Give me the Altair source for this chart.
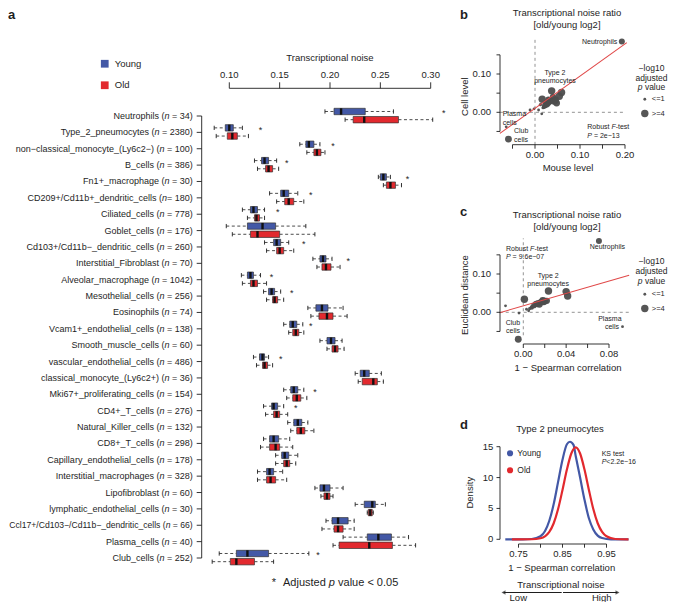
import altair as alt
import pandas as pd

FONT = "Liberation Sans"
INK = "#1e1e1e"
BLUE = "#4358A6"
RED = "#E2292E"
PT = "#4d4d4d"
LINE_RED = "#E04848"

# ---------------- panel a : box statistics ----------------
cells = ["Neutrophils", "Type_2_pneumocytes", "non\u2212classical_monocyte_(Ly6c2\u2212)", "B_cells",
         "Fn1+_macrophage", "CD209+/Cd11b+_dendritic_cells", "Ciliated_cells", "Goblet_cells",
         "Cd103+/Cd11b\u2212_dendritic_cells", "Interstitial_Fibroblast", "Alveolar_macrophage",
         "Mesothelial_cells", "Eosinophils", "Vcam1+_endothelial_cells", "Smooth_muscle_cells",
         "vascular_endothelial_cells", "classical_monocyte_(Ly6c2+)", "Mki67+_proliferating_cells",
         "CD4+_T_cells", "Natural_Killer_cells", "CD8+_T_cells", "Capillary_endothelial_cells",
         "Interstitial_macrophages", "Lipofibroblast", "lymphatic_endothelial_cells",
         "Ccl17+/Cd103\u2212/Cd11b\u2212_dendritic_cells", "Plasma_cells", "Club_cells"]
n_cells = [34, 2380, 100, 386, 30, 180, 778, 176, 260, 70, 1042, 256, 74, 138, 60, 486, 36, 154,
           276, 132, 298, 178, 328, 60, 30, 66, 40, 252]
n_sep = [" = "] * 5 + ["= "] + [" = "] * 22

young_lw = [.195, .085, .170, .125, .248, .140, .113, .097, .135, .183, .112, .134, .178, .154,
            .190, .124, .225, .154, .134, .158, .134, .146, .128, .185, .225, .196, .213, .090]
young_q1 = [.204, .096, .176, .132, .250, .151, .121, .118, .144, .190, .118, .139, .186, .160,
            .197, .130, .230, .161, .142, .164, .140, .152, .137, .190, .234, .202, .237, .107]
young_med = [.211, .100, .179, .135, .253, .154, .124, .133, .147, .193, .121, .142, .192, .163,
             .201, .133, .234, .164, .144, .168, .144, .155, .140, .194, .242, .208, .248, .118]
young_q3 = [.235, .104, .184, .139, .256, .159, .128, .146, .151, .196, .124, .145, .198, .167,
            .205, .135, .239, .168, .148, .172, .149, .159, .144, .200, .245, .218, .261, .139]
young_uw = [.263, .113, .190, .147, .260, .168, .135, .176, .159, .202, .131, .151, .213, .173,
            .212, .139, .251, .174, .154, .178, .160, .168, .153, .213, .255, .224, .278, .179]

old_lw = [.215, .087, .177, .128, .253, .147, .118, .103, .137, .187, .113, .137, .181, .159,
          .197, .127, .228, .157, .136, .161, .131, .146, .128, .191, .237, .192, .203, .083]
old_q1 = [.223, .098, .184, .136, .256, .155, .125, .121, .147, .192, .121, .143, .189, .163,
          .202, .133, .232, .163, .144, .167, .140, .154, .137, .194, .238, .204, .209, .101]
old_med = [.234, .103, .187, .139, .260, .159, .127, .128, .150, .196, .124, .145, .197, .166,
           .205, .135, .243, .167, .147, .171, .146, .157, .141, .197, .240, .208, .239, .107]
old_q3 = [.268, .108, .191, .143, .265, .164, .130, .150, .154, .201, .128, .148, .203, .169,
          .208, .138, .247, .171, .150, .175, .150, .160, .146, .200, .242, .213, .262, .125]
old_uw = [.302, .119, .195, .149, .271, .174, .135, .185, .164, .210, .137, .154, .217, .174,
          .214, .143, .253, .177, .158, .184, .163, .166, .157, .203, .243, .224, .285, .144]

star_x = [.313, .131, .203, .157, .277, .181, .148, None, .174, .218, .142, .162, None, .181,
          None, .151, None, .185, .166, None, None, None, None, None, None, None, None, .188]

a_ticks = [0.10, 0.15, 0.20, 0.25, 0.30]

# ---------------- panels b, c : noise ratio scatter ----------------
mouse_level = [.193, .037, .045, .030, .059, .040, .025, .008, .032, .054, .033, .028, .022, .022,
               .018, .048, .015, .042, .046, .020, .012, .026, .030, .016, -.011, -.002, -.064, -.059]
cell_level = [.185, .056, .030, .033, .052, .040, .024, .006, .028, .042, .030, .022, .016, .018,
              .012, .024, -.004, .028, .033, .014, .020, .018, .025, .034, .006, .009, -.038, -.070]
spearman_dist = [.0706, .0235, .0195, .016, .040, .018, .012, .003, .014, .0414, .019, .017, .008, .010,
                 .006, .015, -.004, .022, .020, .008, .010, .013, .018, .001, .005, -.0166, .0926, -.0047]
euclid_dist = [.186, .0557, .030, .026, .054, .032, .022, .008, .024, .0426, .028, .027, .014, .018,
               .010, .021, -.002, .030, .029, .012, .016, .019, .025, .034, .004, .017, -.0376, -.0705]
neglog10_p = [2.8, 4.5, 3.5, 3.0, 4.5, 3.0, 3.0, 1.0, 3.0, 4.5, 4.5, 3.0, 1.5, 2.5,
              1.2, 3.5, 1.0, 3.0, 3.0, 1.5, 1.2, 1.8, 2.0, 4.0, 1.0, 1.0, 1.0, 3.5]

reg_b_x = [-0.078, 0.204]
reg_b_y = [-0.055, 0.182]
reg_c_x = [-0.022, 0.0988]
reg_c_y = [-0.001, 0.0966]

b_xticks = [-0.05, 0.0, 0.05, 0.10, 0.15, 0.20]
b_xlabels = [0.0, 0.10, 0.20]
bc_yticks = [-0.05, 0.0, 0.05, 0.10, 0.15]
bc_ylabels = [0.0, 0.10]
c_xticks = [0.0, 0.02, 0.04, 0.06, 0.08]
c_xlabels = [0.0, 0.04, 0.08]

# ---------------- panel d : density curves ----------------
young_dx = [0.72, 0.76, 0.78, 0.80, 0.81, 0.82, 0.83, 0.84, 0.85, 0.86, 0.867, 0.875, 0.88, 0.89,
            0.90, 0.91, 0.92, 0.93, 0.94, 0.96, 1.00]
young_dy = [0.0, 0.0, 0.05, 0.5, 1.3, 3.0, 5.7, 9.3, 12.9, 15.4, 15.8, 15.3, 13.5, 10.0,
            6.4, 3.4, 1.6, 0.6, 0.2, 0.0, 0.0]
old_dx = [0.735, 0.78, 0.80, 0.82, 0.83, 0.84, 0.85, 0.86, 0.87, 0.88, 0.89, 0.90, 0.91, 0.92,
          0.93, 0.94, 0.95, 0.97, 1.00]
old_dy = [0.0, 0.01, 0.17, 1.2, 2.6, 4.9, 8.0, 11.3, 13.9, 14.9, 13.9, 11.3, 8.0, 4.9,
          2.6, 1.2, 0.5, 0.05, 0.0]
d_xticks = [0.75, 0.80, 0.85, 0.90, 0.95]
d_xlabels = [0.75, 0.85, 0.95]
d_yticks = [0, 5, 10, 15]

# ---------------- helpers ----------------
W = {' ': 278, '(': 333, ')': 333, '+': 584, '-': 333, '/': 278, '=': 584, '_': 556, '.': 278,
     '\u2212': 584, '<': 584, '*': 389}
for ch in "0123456789":
    W[ch] = 556
for ch, w in zip("ABCDEFGHIJKLMNOPQRSTUVWXYZ",
                 [667, 667, 722, 722, 667, 611, 778, 722, 278, 500, 667, 556, 833, 722, 778, 667, 778,
                  722, 667, 611, 722, 667, 944, 667, 667, 611]):
    W[ch] = w
for ch, w in zip("abcdefghijklmnopqrstuvwxyz",
                 [556, 556, 500, 556, 556, 278, 556, 556, 222, 222, 500, 222, 833, 556, 556, 556, 556,
                  333, 500, 278, 556, 500, 722, 500, 500, 500]):
    W[ch] = w


def tw(s, fs):
    return sum(W.get(c, 556) for c in s) * fs / 1000.0


def S(dom, rng):
    return alt.Scale(domain=dom, range=rng, zero=False, nice=False)


def qx(f, sc):
    return alt.X(f, type="quantitative", scale=sc, axis=None)


def qy(f, sc):
    return alt.Y(f, type="quantitative", scale=sc, axis=None)


ONE = pd.DataFrame({"k": [0]})


def label(text, x, y, size=9.5, align="center", baseline="middle", angle=0, weight="normal",
          style="normal", color=INK):
    kw = dict(text=text, fontSize=size, align=align, baseline=baseline, fontWeight=weight,
              fontStyle=style, color=color, font=FONT)
    if angle:
        kw["angle"] = angle
    return alt.Chart(ONE).mark_text(**kw).encode(x=alt.value(x), y=alt.value(y))


def rich(segs, x, y, size=7):
    out, cx = [], x
    for s, it in segs:
        lead = len(s) - len(s.lstrip(" "))
        cx += tw(" " * lead, size)
        body = s.strip(" ")
        out.append(label(body, cx, y, size=size, align="left", style="italic" if it else "normal"))
        cx += tw(s.lstrip(" "), size)
    return out


def rich_center(segs, xc, y, size):
    total = tw("".join(s for s, _ in segs), size)
    return rich(segs, xc - total / 2.0, y, size=size)


def dlabel(text, x, y, xs, ys, size=7, align="center"):
    return alt.Chart(pd.DataFrame({"x": [x], "y": [y]})).mark_text(
        text=text, fontSize=size, align=align, baseline="middle", color=INK, font=FONT
    ).encode(x=qx("x", xs), y=qy("y", ys))


def hrule(x0, x1, y, xs, **kw):
    return alt.Chart(pd.DataFrame({"a": [x0], "b": [x1]})).mark_rule(**kw).encode(
        x=qx("a", xs), x2=alt.X2("b"), y=alt.value(y))


def vrule(y0, y1, x, ys, **kw):
    return alt.Chart(pd.DataFrame({"a": [y0], "b": [y1]})).mark_rule(**kw).encode(
        y=qy("a", ys), y2=alt.Y2("b"), x=alt.value(x))


def hline_data(x0, x1, yv, xs, ys, **kw):
    return alt.Chart(pd.DataFrame({"a": [x0], "b": [x1], "y": [yv]})).mark_rule(**kw).encode(
        x=qx("a", xs), x2=alt.X2("b"), y=qy("y", ys))


def vline_data(y0, y1, xv, xs, ys, **kw):
    return alt.Chart(pd.DataFrame({"a": [y0], "b": [y1], "x": [xv]})).mark_rule(**kw).encode(
        y=qy("a", ys), y2=alt.Y2("b"), x=qx("x", xs))


def haxis(ticks, labels, xs, yl, tlen, ly, fmt):
    out = [hrule(ticks[0], ticks[-1], yl, xs, color=INK, strokeWidth=0.9)]
    out.append(alt.Chart(pd.DataFrame({"v": ticks})).mark_rule(color=INK, strokeWidth=0.9).encode(
        x=qx("v", xs), y=alt.value(yl), y2=alt.value(yl + tlen)))
    out.append(alt.Chart(pd.DataFrame({"v": labels})).mark_text(
        fontSize=9.5, font=FONT, color=INK, baseline="middle").encode(
        x=qx("v", xs), y=alt.value(ly), text=alt.Text("v:Q", format=fmt)))
    return out


def vaxis(ticks, labels, ys, xl, tlen, lx, fmt):
    out = [vrule(ticks[0], ticks[-1], xl, ys, color=INK, strokeWidth=0.9)]
    out.append(alt.Chart(pd.DataFrame({"v": ticks})).mark_rule(color=INK, strokeWidth=0.9).encode(
        y=qy("v", ys), x=alt.value(xl - tlen), x2=alt.value(xl)))
    out.append(alt.Chart(pd.DataFrame({"v": labels})).mark_text(
        fontSize=9.5, font=FONT, color=INK, baseline="middle", align="right").encode(
        y=qy("v", ys), x=alt.value(lx), text=alt.Text("v:Q", format=fmt)))
    return out


layers = []

# ================= panel a =================
AX = S([0.10, 0.30], [221.3, 422.7])
AY = S([0, 27], [108, 550])

rows = []
for i in range(len(cells)):
    for grp, off, v in (("Young", -0.275, (young_lw, young_q1, young_med, young_q3, young_uw)),
                        ("Old", 0.225, (old_lw, old_q1, old_med, old_q3, old_uw))):
        c = i + off
        rows.append(dict(group=grp, yc=c, yt=c - 0.195, yb=c + 0.195, ct=c - 0.13, cb=c + 0.13,
                         lw=v[0][i], q1=v[1][i], med=v[2][i], q3=v[3][i], uw=v[4][i]))
box = pd.DataFrame(rows)

layers.append(alt.Chart(box).mark_rule(color=INK, strokeWidth=0.8, strokeDash=[3, 2.5]).encode(
    x=qx("lw", AX), x2=alt.X2("q1"), y=qy("yc", AY)))
layers.append(alt.Chart(box).mark_rule(color=INK, strokeWidth=0.8, strokeDash=[3, 2.5]).encode(
    x=qx("q3", AX), x2=alt.X2("uw"), y=qy("yc", AY)))
layers.append(alt.Chart(box).mark_rule(color=INK, strokeWidth=0.9).encode(
    x=qx("lw", AX), y=qy("ct", AY), y2=alt.Y2("cb")))
layers.append(alt.Chart(box).mark_rule(color=INK, strokeWidth=0.9).encode(
    x=qx("uw", AX), y=qy("ct", AY), y2=alt.Y2("cb")))
layers.append(alt.Chart(box).mark_rect(stroke="#333333", strokeWidth=0.7).encode(
    x=qx("q1", AX), x2=alt.X2("q3"), y=qy("yt", AY), y2=alt.Y2("yb"),
    color=alt.Color("group:N", scale=alt.Scale(domain=["Young", "Old"], range=[BLUE, RED]),
                    legend=alt.Legend(orient="none", legendX=92, legendY=51, title=None,
                                      direction="vertical", symbolType="square", symbolSize=60,
                                      symbolStrokeWidth=0, labelFontSize=9.5, labelFont=FONT,
                                      labelColor=INK, rowPadding=10.5, labelOffset=5.3, padding=0))))
layers.append(alt.Chart(box).mark_rule(color="#111111", strokeWidth=2.4).encode(
    x=qx("med", AX), y=qy("yt", AY), y2=alt.Y2("yb")))

stars = pd.DataFrame([dict(x=s, y=i - 0.28) for i, s in enumerate(star_x) if s is not None])
layers.append(alt.Chart(stars).mark_text(text="*", fontSize=9, font=FONT, color=INK,
                                         baseline="alphabetic", dy=5).encode(
    x=qx("x", AX), y=qy("y", AY)))

# y axis of panel a
layers.append(vrule(0, 27, 193.7, AY, color=INK, strokeWidth=0.9))
layers.append(alt.Chart(pd.DataFrame({"v": list(range(len(cells)))})).mark_rule(
    color=INK, strokeWidth=0.9).encode(y=qy("v", AY), x=alt.value(188.7), x2=alt.value(193.7)))
RX = 184.7
lab_rows = []
for i, (c, n, sep) in enumerate(zip(cells, n_cells, n_sep)):
    pre = c + " ("
    suf = sep + str(n) + ")"
    full = tw(pre + "n" + suf, 9)
    fs = min(9.0, 9.0 * (RX - 0.5) / full)
    xn = RX - tw(suf, fs)
    xp = xn - tw("n", fs)
    lab_rows.append(dict(i=i, pre=pre, suf=suf.strip(), xp=xp, xn=xn, xs=RX, fs=fs))
lab = pd.DataFrame(lab_rows)
for fld, xf in (("pre", "xp"), ("suf", "xs")):
    layers.append(alt.Chart(lab).mark_text(font=FONT, color=INK, align="right",
                                           baseline="middle").encode(
        x=alt.X(xf, type="quantitative", scale=None, axis=None), y=qy("i", AY), text=fld + ":N",
        size=alt.Size("fs:Q", scale=None, legend=None)))
layers.append(alt.Chart(lab).mark_text(text="n", font=FONT, color=INK, align="right",
                                       baseline="middle", fontStyle="italic").encode(
    x=alt.X("xn", type="quantitative", scale=None, axis=None), y=qy("i", AY),
    size=alt.Size("fs:Q", scale=None, legend=None)))

# top x axis of panel a
layers.append(hrule(a_ticks[0], a_ticks[-1], 80.3, AX, color=INK, strokeWidth=0.9))
layers.append(alt.Chart(pd.DataFrame({"v": a_ticks})).mark_rule(color=INK, strokeWidth=0.9).encode(
    x=qx("v", AX), y=alt.value(74.3), y2=alt.value(80.3)))
layers.append(alt.Chart(pd.DataFrame({"v": a_ticks})).mark_text(
    fontSize=9.5, font=FONT, color=INK, baseline="middle").encode(
    x=qx("v", AX), y=alt.value(67), text=alt.Text("v:Q", format=".2f")))
layers.append(label("Transcriptional noise", 322, 50, size=9.5))

# footnote
layers.append(label("*", 266, 578, size=11, baseline="alphabetic"))
layers += rich([("Adjusted ", False), ("p", True), (" value < 0.05", False)], 275, 575.3, size=11)
layers.append(label("a", 0, 1, size=13, align="left", baseline="top", weight="bold"))

# ================= panel b =================
BX = S([0.0, 0.2], [527, 617])
BY = S([0.0, 0.1], [104.3, 66.0])
pts = pd.DataFrame({"cell": cells, "xb": mouse_level, "yb": cell_level, "xc": spearman_dist,
                    "yc": euclid_dist, "s": neglog10_p})
SIZE = alt.Scale(domain=[1, 4], range=[8, 55], clamp=True)


def size_legend(lx, ly):
    return alt.Legend(orient="none", legendX=lx, legendY=ly, direction="vertical", title=None,
                      values=[1, 4], labelExpr="datum.value <= 1 ? '<=1' : '>=4'",
                      labelFontSize=7.5, labelFont=FONT, labelColor=INK, symbolFillColor=PT,
                      symbolStrokeWidth=0, symbolType="circle", rowPadding=6, labelOffset=3,
                      padding=0)


def size_legend_title(xc, ytop):
    out = [label("\u2212log10", xc, ytop, size=8.5), label("adjusted", xc, ytop + 9.8, size=8.5)]
    out += rich_center([("p", True), (" value", False)], xc, ytop + 19.6, 8.5)
    return out


GREY_DASH = dict(color="#777777", strokeWidth=0.8, strokeDash=[3, 3])
layers.append(hline_data(-0.078, 0.20, 0.0, BX, BY, **GREY_DASH))
layers.append(vline_data(-0.085, 0.191, 0.0, BX, BY, **GREY_DASH))
layers.append(alt.Chart(pts).mark_circle(color=PT, opacity=0.95).encode(
    x=qx("xb", BX), y=qy("yb", BY), size=alt.Size("s:Q", scale=SIZE, legend=size_legend(632.8, 87.5))))
layers += size_legend_title(643.5, 59.7)
layers.append(alt.Chart(pd.DataFrame({"x": reg_b_x, "y": reg_b_y})).mark_line(
    color=LINE_RED, strokeWidth=1.1).encode(x=qx("x", BX), y=qy("y", BY)))
layers.append(dlabel("Neutrophils", 0.183, 0.1836, BX, BY, align="right"))
layers.append(dlabel("Type 2", 0.0444, 0.1034, BX, BY))
layers.append(dlabel("pneumocytes", 0.0444, 0.0817, BX, BY))
layers.append(dlabel("Plasma", -0.0718, -0.0044, BX, BY, align="left"))
layers.append(dlabel("cells", -0.0718, -0.027, BX, BY, align="left"))
layers.append(dlabel("Club", -0.0467, -0.0496, BX, BY, align="left"))
layers.append(dlabel("cells", -0.0467, -0.0723, BX, BY, align="left"))
layers += rich([("Robust ", False), ("F", True), ("-test", False)], 579.3, 118.7)
layers += rich([("P", True), (" = 2e\u221213", False)], 579.3, 127.7)
layers += haxis(b_xticks, b_xlabels, BX, 136.7, 4, 146.7, ".2f")
layers += vaxis(bc_yticks, bc_ylabels, BY, 492, 3.5, 483, ".2f")
layers.append(label("Cell level", 457, 88.7, angle=270))
layers.append(label("Mouse level", 560, 160.3))
layers.append(label("Transcriptional noise ratio", 559, 5))
layers.append(label("[old/young log2]", 559, 17))
layers.append(label("b", 452, 1, size=13, align="left", baseline="top", weight="bold"))

# ================= panel c =================
CX = S([0.0, 0.08], [515.3, 601])
CY = S([0.0, 0.1], [304.3, 266.0])
layers.append(hline_data(-0.022, 0.099, 0.0, CX, CY, **GREY_DASH))
layers.append(vline_data(-0.06, 0.193, 0.0, CX, CY, **GREY_DASH))
layers.append(alt.Chart(pts).mark_circle(color=PT, opacity=0.95).encode(
    x=qx("xc", CX), y=qy("yc", CY), size=alt.Size("s:Q", scale=SIZE, legend=size_legend(632.8, 282.5))))
layers += size_legend_title(643.5, 253)
layers.append(alt.Chart(pd.DataFrame({"x": reg_c_x, "y": reg_c_y})).mark_line(
    color=LINE_RED, strokeWidth=1.1).encode(x=qx("x", CX), y=qy("y", CY)))
layers.append(dlabel("Neutrophils", 0.0785, 0.1697, CX, CY))
layers.append(dlabel("Type 2", 0.0232, 0.0956, CX, CY))
layers.append(dlabel("pneumocytes", 0.0232, 0.0731, CX, CY))
layers.append(dlabel("Club", -0.003, -0.029, CX, CY, align="right"))
layers.append(dlabel("cells", -0.003, -0.050, CX, CY, align="right"))
layers.append(dlabel("Plasma", 0.0917, -0.0175, CX, CY, align="right"))
layers.append(dlabel("cells", 0.0893, -0.0376, CX, CY, align="right"))
layers += rich([("Robust ", False), ("F", True), ("-test", False)], 498, 241)
layers += rich([("P", True), (" = 9.6e\u221207", False)], 498, 249)
layers += haxis(c_xticks, c_xlabels, CX, 336, 4, 346.3, ".2f")
layers += vaxis(bc_yticks, bc_ylabels, CY, 492, 3.5, 483, ".2f")
layers.append(label("Euclidean distance", 457, 287, angle=270))
layers.append(label("1 \u2212 Spearman correlation", 560, 360.3))
layers.append(label("Transcriptional noise ratio", 559, 207))
layers.append(label("[old/young log2]", 559, 218.5))
layers.append(label("c", 452, 208, size=13, align="left", baseline="alphabetic", weight="bold"))

# ================= panel d =================
DX = S([0.75, 0.95], [510.5, 598.5])
DY = S([0, 15], [531.3, 438.7])
dens = pd.DataFrame({"x": young_dx + old_dx, "y": young_dy + old_dy,
                     "group": ["Young"] * len(young_dx) + ["Old"] * len(old_dx)})
layers.append(alt.Chart(dens).mark_line(strokeWidth=2.2, interpolate="monotone").encode(
    x=qx("x", DX), y=qy("y", DY), order=alt.Order("x:Q"),
    color=alt.Color("group:N", scale=alt.Scale(domain=["Young", "Old"], range=[BLUE, RED]),
                    legend=alt.Legend(orient="none", legendX=497.8, legendY=441, title=None,
                                      direction="vertical", symbolType="circle", symbolSize=10,
                                      symbolStrokeWidth=3, labelFontSize=8.5, labelFont=FONT,
                                      labelColor=INK, rowPadding=1, labelOffset=3, padding=0))))
layers += haxis(d_xticks, d_xlabels, DX, 536, 3.7, 546.3, ".2f")
layers += vaxis(d_yticks, d_yticks, DY, 492, 3.5, 485.3, "d")
layers.append(label("Type 2 pneumocytes", 552, 421.3))
layers.append(label("Density", 462, 484.7, angle=270))
layers.append(label("1 \u2212 Spearman correlation", 553.7, 559.5))
layers.append(label("KS test", 593.7, 446, size=7, align="left"))
layers += rich([("P", True), ("<2.2e\u221216", False)], 593.7, 454)
layers.append(label("d", 452, 421, size=13, align="left", baseline="alphabetic", weight="bold"))
layers.append(label("Transcriptional noise", 553, 576.5))
layers.append(alt.Chart(ONE).mark_rule(color=INK, strokeWidth=1).encode(
    x=alt.value(495.5), x2=alt.value(553.7), y=alt.value(584.5)))
layers.append(alt.Chart(ONE).mark_rule(color=INK, strokeWidth=1).encode(
    x=alt.value(555), x2=alt.value(609.5), y=alt.value(584.5)))
layers.append(alt.Chart(ONE).mark_point(shape="triangle-left", filled=True, size=22, color=INK).encode(
    x=alt.value(495.5), y=alt.value(584.5)))
layers.append(alt.Chart(ONE).mark_point(shape="triangle-right", filled=True, size=22, color=INK).encode(
    x=alt.value(609.5), y=alt.value(584.5)))
layers.append(label("Low", 510.3, 590, size=9.5))
layers.append(label("High", 593.7, 590, size=9.5))

chart = alt.layer(*layers).resolve_scale(
    x="independent", y="independent", color="independent", size="independent"
).resolve_legend(color="independent", size="independent").properties(
    width=660, height=594, padding=0, autosize=alt.AutoSizeParams(type="none"),
    background="white"
).configure(font=FONT).configure_view(stroke=None)

chart.save("out.html", embed_options={"renderer": "svg", "actions": False})
